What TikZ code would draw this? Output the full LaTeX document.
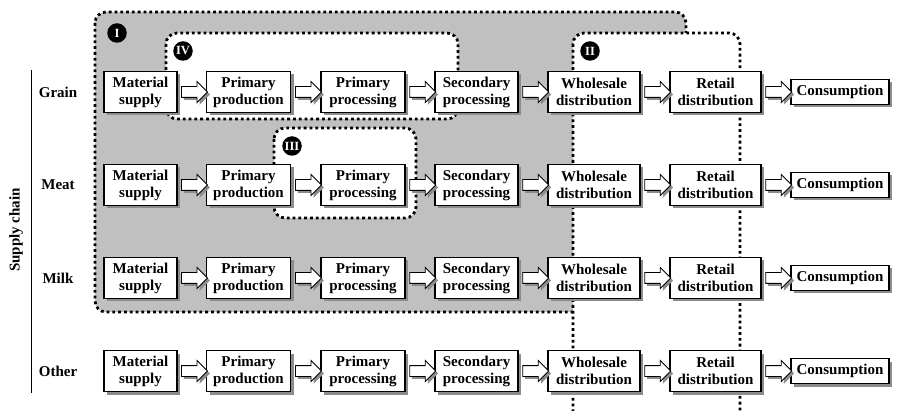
\documentclass[tikz,border=0pt]{standalone}
\usepackage{fontspec}
\setmainfont{Liberation Serif}
\usetikzlibrary{shapes.arrows,shadows,calc}
\definecolor{regiongray}{RGB}{192,192,192}
\begin{document}
\begin{tikzpicture}[x=1pt,y=-1pt,
  txt/.style={font=\bfseries\fontsize{15}{17}\selectfont},
  stagebox/.style={txt, draw, line width=1.1pt, fill=white, align=center, inner sep=0pt,
    minimum height=41pt,
    drop shadow={shadow xshift=3pt, shadow yshift=-3pt, fill=black!45, opacity=1}},
  blockarrow/.style={single arrow, draw, line width=0.9pt, fill=white,
    minimum height=26pt, single arrow head extend=5pt, inner xsep=0pt, inner ysep=5pt,
    drop shadow={shadow xshift=2.5pt, shadow yshift=-2.5pt, fill=black!45, opacity=1}},
  region/.style={line width=2.8pt, dash pattern=on 2.8pt off 3pt, rounded corners=11pt},
  badge/.style={circle, fill=black, text=white, inner sep=0pt, minimum size=19.5pt,
    font=\bfseries\fontsize{12.5}{13}\selectfont}
]
\useasboundingbox (0,0) rectangle (899,411);
\clip (0,0) rectangle (899,411);

% regions
\draw[region, fill=regiongray] (95,12) rectangle (686,312);
\draw[region, fill=white] (573,33) rectangle (740,424);
\draw[region, fill=white] (166,33) rectangle (458,119);
\draw[region, fill=white] (274,128) rectangle (416,218);

\node[badge] (bI) at (117,33) {I};
\node[badge] (bII) at (590,51) {II};
\node[badge] (bIII) at (292,146) {III};
\node[badge] (bIV) at (183,51) {IV};

% side label and line
\node[txt, rotate=90] (sc) at (16,230) {Supply chain};
\coordinate (lt) at (31,70);
\coordinate (lb) at (31,393);
\draw[line width=1pt] (lt) -- (lb);

\foreach \r/\y/\lab in {g/92/Grain, m/185/Meat, k/278/Milk, o/371/Other}{
  \node[txt] (\r0) at (58,\y) {\lab};
  \node[stagebox, minimum width=73pt] (\r1) at (140.5,\y) {Material\\supply};
  \node[stagebox, minimum width=84pt] (\r2) at (248.5,\y) {Primary\\production};
  \node[stagebox, minimum width=84pt] (\r3) at (363,\y) {Primary\\processing};
  \node[stagebox, minimum width=83pt] (\r4) at (476.5,\y) {Secondary\\processing};
  \node[stagebox, minimum width=92pt] (\r5) at (594,\y) {Wholesale\\distribution};
  \node[stagebox, minimum width=91pt] (\r6) at (715.5,\y) {Retail\\distribution};
  \node[stagebox, minimum width=98pt, minimum height=25pt] (\r7) at (840,\y) {Consumption};
  \foreach \a/\b in {1/2,2/3,3/4,4/5,5/6,6/7}{
    \node[blockarrow] (\r a\a) at ($(\r\a.east)!0.5!(\r\b.west)$) {};
  }
}
\end{tikzpicture}
\end{document}
